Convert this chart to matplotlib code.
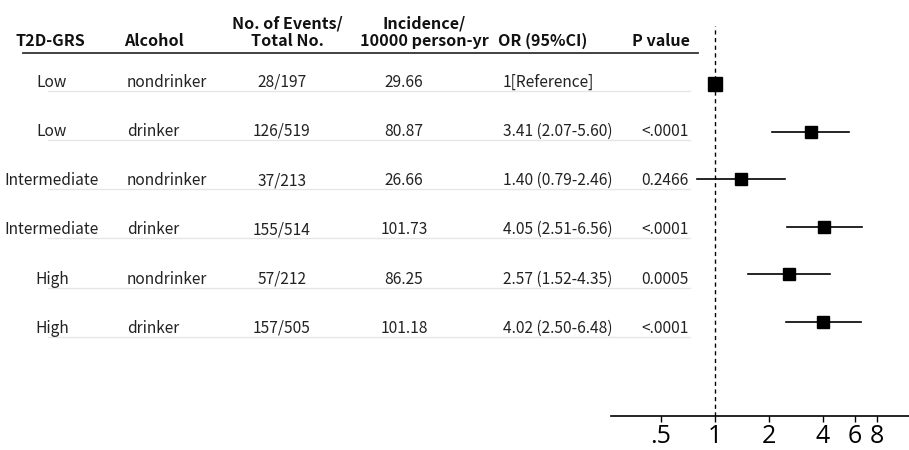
import matplotlib
matplotlib.use("Agg")
import matplotlib.pyplot as plt
from matplotlib.transforms import blended_transform_factory
from matplotlib.lines import Line2D
import numpy as np

plt.rcParams['font.family'] = ['Noto Sans CJK SC', 'DejaVu Sans']

# table data
grs = ['Low', 'Low', 'Intermediate', 'Intermediate', 'High', 'High']
alcohol = ['nondrinker', 'drinker', 'nondrinker', 'drinker', 'nondrinker', 'drinker']
events = ['28/197', '126/519', '37/213', '155/514', '57/212', '157/505']
incidence = ['29.66', '80.87', '26.66', '101.73', '86.25', '101.18']
or_est = [1.0, 3.41, 1.40, 4.05, 2.57, 4.02]
ci_low = [np.nan, 2.07, 0.79, 2.51, 1.52, 2.50]
ci_high = [np.nan, 5.60, 2.46, 6.56, 4.35, 6.48]
p_values = ['', '<.0001', '0.2466', '<.0001', '0.0005', '<.0001']
headers = ['T2D-GRS', 'Alcohol', 'No. of Events/\nTotal No.',
           'Incidence/\n10000 person-yr', 'OR (95%CI)', 'P value']
x_ticks = [0.5, 1, 2, 4, 6, 8]
x_ticklabels = ['.5', '1', '2', '4', '6', '8']

W, H = 909, 450
fig = plt.figure(figsize=(W / 100, H / 100), dpi=100)
ax = fig.add_axes([611 / W, 1 - 416 / H, (W - 611) / W, (416 - 26) / H])

rows = np.arange(len(grs))

# forest plot
ax.axvline(1, color='black', lw=1, ls=(0, (3, 2.5)), zorder=1)
for i in rows:
    if np.isnan(ci_low[i]):
        ax.plot(or_est[i], i, 's', color='black', ms=10.5, zorder=3)
    else:
        ax.plot([ci_low[i], ci_high[i]], [i, i], color='black', lw=1.2, zorder=2)
        ax.plot(or_est[i], i, 's', color='black', ms=8.5, zorder=3)

ax.set_xscale('log')
ax.set_xlim(0.263, 12.07)
ax.set_ylim(6.98, -1.22)
ax.set_xticks(x_ticks)
ax.set_xticklabels(x_ticklabels, fontfamily='Open Sans', fontsize=18)
ax.xaxis.set_minor_locator(matplotlib.ticker.NullLocator())
ax.tick_params(axis='x', length=4.3, width=1, pad=1.5)
ax.set_yticks([])
for s in ['left', 'top', 'right']:
    ax.spines[s].set_visible(False)
ax.spines['bottom'].set_linewidth(1.2)
ax.patch.set_alpha(0)

# table text (table rows are spaced a bit wider than the plot rows)
tr = blended_transform_factory(fig.transFigure, ax.transData)
table_y = -0.04 + 1.035 * rows
col_x = [52, 127, 282, 404, 503, 689]
col_ha = ['center', 'left', 'center', 'center', 'left', 'right']
for i in rows:
    if np.isnan(ci_low[i]):
        or_txt = '1[Reference]'
    else:
        or_txt = f'{or_est[i]:.2f} ({ci_low[i]:.2f}-{ci_high[i]:.2f})'
    vals = [grs[i], alcohol[i], events[i], incidence[i], or_txt, p_values[i]]
    y = table_y[i]
    for x, ha, v in zip(col_x, col_ha, vals):
        fig.text(x / W, y, v, transform=tr, ha=ha, va='center',
                 fontsize=11.2, fontweight='light', color='#222222')
    fig.add_artist(Line2D([48 / W, 690 / W], [y + 0.18, y + 0.18], transform=tr,
                          color='#e6e6e6', lw=1))

# headers
head_x = [50, 154, 287, 424, 543, 661]
for x, h in zip(head_x, headers):
    fig.text(x / W, 1 - 46 / H, h, ha='center', va='baseline', fontsize=11.6,
             fontweight='bold', linespacing=1.15, color='#111111')
fig.add_artist(Line2D([23 / W, 698 / W], [1 - 53 / H, 1 - 53 / H],
                      color='#333333', lw=1.3))

fig.savefig('out.png', dpi=100)
